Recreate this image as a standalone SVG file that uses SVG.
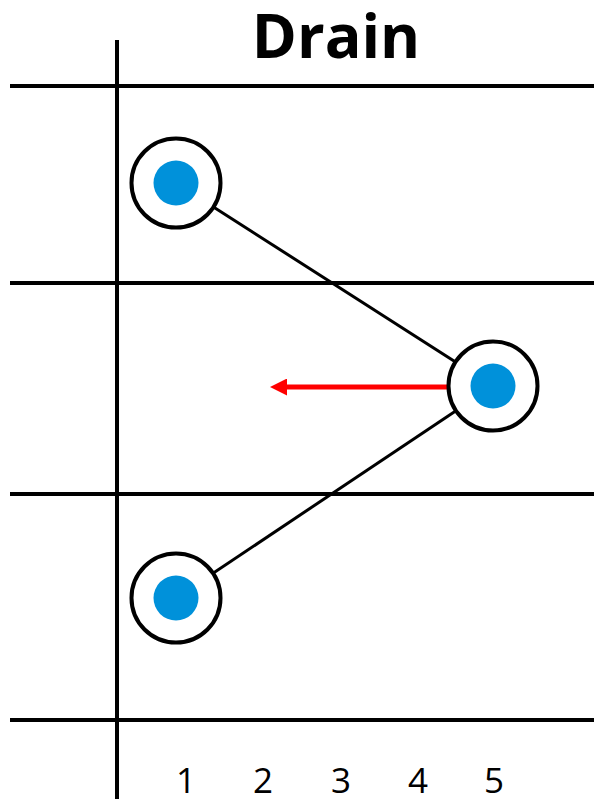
<svg xmlns="http://www.w3.org/2000/svg" width="594" height="799" viewBox="0 0 594 799">
<style>
.grid{stroke:#000;stroke-width:4;fill:none}
.conn{stroke:#000;stroke-width:3}
.ring{fill:#fff;stroke:#000;stroke-width:4}
.dot{fill:#0091DA}
.num{font-family:"Open Sans","Liberation Sans",sans-serif;font-size:35px;fill:#000;text-anchor:middle}
.title{font-family:"Open Sans","Liberation Sans",sans-serif;font-size:61px;font-weight:bold;fill:#000;text-anchor:middle}
</style>
<defs>
<marker id="ah" markerWidth="3.4" markerHeight="3.4" refX="0.4" refY="1.7" orient="auto" markerUnits="strokeWidth">
<path d="M0,0 L3.4,1.7 L0,3.4 Z" fill="#ff0000"/>
</marker>
</defs>
<rect width="594" height="799" fill="#fff"/>
<g id="grid">
<line class="grid" x1="10" y1="86" x2="594" y2="86"/>
<line class="grid" x1="10" y1="283" x2="594" y2="283"/>
<line class="grid" x1="10" y1="494" x2="594" y2="494"/>
<line class="grid" x1="10" y1="720" x2="594" y2="720"/>
<line class="grid" x1="117" y1="40" x2="117" y2="799"/>
</g>
<text class="title" x="336" y="58">Drain</text>
<g id="connectors">
<line class="conn" x1="176" y1="183" x2="493" y2="386"/>
<line class="conn" x1="176" y1="598" x2="493" y2="386"/>
<line x1="450" y1="387" x2="285" y2="387" stroke="#ff0000" stroke-width="5" marker-end="url(#ah)"/>
</g>
<g id="node1"><circle class="ring" cx="176" cy="183" r="44.5"/><circle class="dot" cx="176" cy="183" r="22.5"/></g>
<g id="node2"><circle class="ring" cx="493" cy="386" r="44.5"/><circle class="dot" cx="493" cy="386" r="22.5"/></g>
<g id="node3"><circle class="ring" cx="176" cy="598" r="44.5"/><circle class="dot" cx="176" cy="598" r="22.5"/></g>
<g id="labels">
<text class="num" x="186" y="793">1</text>
<text class="num" x="263" y="793">2</text>
<text class="num" x="341" y="793">3</text>
<text class="num" x="418" y="793">4</text>
<text class="num" x="494" y="793">5</text>
</g>
</svg>
